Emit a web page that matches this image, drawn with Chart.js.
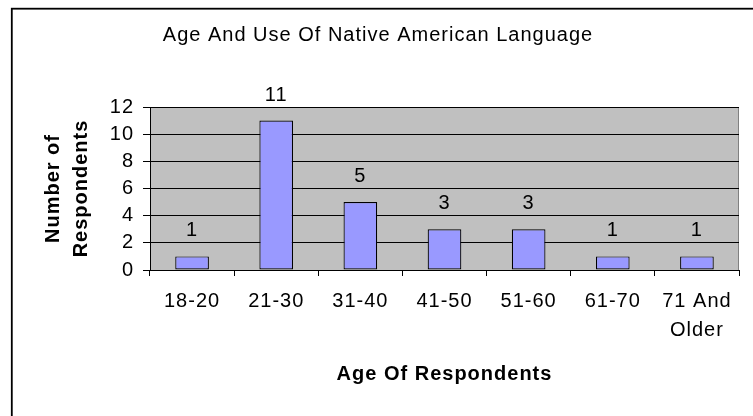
<!DOCTYPE html>
<html>
<head>
<meta charset="utf-8">
<script src="https://cdn.jsdelivr.net/npm/chart.js@4/dist/chart.umd.min.js"></script>
<style>
  html, body { margin: 0; padding: 0; background: #ffffff; }
  #wrap { width: 753px; height: 416px; }
</style>
</head>
<body>
<div id="wrap"><canvas id="c" width="753" height="416"></canvas></div>
<script>
const categories = ["18-20", "21-30", "31-40", "41-50", "51-60", "61-70", ["71 And", "Older"]];
const respondents = [1, 11, 5, 3, 3, 1, 1];
const yTicks = [0, 2, 4, 6, 8, 10, 12];

const chartTitle = "Age And Use Of Native American Language";
const xTitle = "Age Of Respondents";
const yTitle = ["Number of", "Respondents"];

const FONT = "'Liberation Sans', Arial, Helvetica, sans-serif";

const framePlugin = {
  id: 'frame',
  beforeDraw(chart) {
    const ctx = chart.ctx;
    const a = chart.chartArea;
    ctx.save();
    ctx.fillStyle = '#ffffff';
    ctx.fillRect(0, 0, chart.width, chart.height);
    ctx.strokeStyle = '#000000';
    ctx.lineWidth = 1.8;
    ctx.strokeRect(11.8, 8.7, 1000, 1000);
    ctx.fillStyle = '#C0C0C0';
    ctx.fillRect(a.left, a.top, a.right - a.left, a.bottom - a.top);
    ctx.strokeStyle = '#808080';
    ctx.lineWidth = 1;
    ctx.strokeRect(Math.round(a.left) + 0.5, Math.round(a.top) + 0.5, Math.round(a.right - a.left) - 1, Math.round(a.bottom - a.top));
    ctx.restore();
    ctx.letterSpacing = '1px';
  }
};

const valueLabelPlugin = {
  id: 'valueLabels',
  afterDatasetsDraw(chart) {
    const ctx = chart.ctx;
    const meta = chart.getDatasetMeta(0);
    const data = chart.data.datasets[0].data;
    ctx.save();
    ctx.font = '20px ' + FONT;
    ctx.fillStyle = '#000000';
    ctx.textAlign = 'center';
    ctx.textBaseline = 'alphabetic';
    meta.data.forEach((el, i) => {
      ctx.fillText(String(data[i]), el.x, el.y - 20);
    });
    ctx.restore();
  }
};

new Chart(document.getElementById('c'), {
  type: 'bar',
  data: {
    labels: categories,
    datasets: [{
      data: respondents,
      backgroundColor: '#9999FF',
      borderColor: '#000000',
      borderWidth: 1.2,
      borderSkipped: false,
      categoryPercentage: 1.0,
      barPercentage: 0.4
    }]
  },
  options: {
    responsive: false,
    animation: false,
    events: [],
    layout: { padding: { left: 17, right: 14, top: 0, bottom: 0 } },
    plugins: {
      legend: { display: false },
      tooltip: { enabled: false },
      title: {
        display: true,
        text: chartTitle,
        color: '#000000',
        font: { family: FONT, size: 20, weight: 'normal', lineHeight: 1.2 },
        padding: { top: 23, bottom: 60 }
      }
    },
    scales: {
      x: {
        grid: {
          display: true,
          drawOnChartArea: false,
          drawTicks: true,
          tickLength: 6,
          color: '#000000',
          lineWidth: 1,
          offset: true
        },
        border: { display: true, color: '#000000', width: 1 },
        ticks: {
          color: '#000000',
          font: { family: FONT, size: 20, lineHeight: 1.45 },
          padding: 10.5,
          maxRotation: 0,
          autoSkip: false
        },
        title: {
          display: true,
          text: xTitle,
          color: '#000000',
          font: { family: FONT, size: 20, weight: 'bold', lineHeight: 1.2 },
          padding: { top: 0, bottom: 30 }
        },
        afterFit(scale) { scale.height = 146; }
      },
      y: {
        min: 0,
        max: 12,
        afterBuildTicks(scale) { scale.ticks = yTicks.map(v => ({ value: v })); },
        grid: {
          display: true,
          drawOnChartArea: true,
          drawTicks: true,
          tickLength: 7,
          color: '#000000',
          lineWidth: 1
        },
        border: { display: true, color: '#000000', width: 1 },
        ticks: {
          color: '#000000',
          font: { family: FONT, size: 20, lineHeight: 1.2 },
          padding: 9
        },
        title: {
          display: true,
          text: yTitle,
          color: '#000000',
          font: { family: FONT, size: 20, weight: 'bold', lineHeight: 1.4 },
          padding: { top: 22.5, bottom: 0 }
        },
        afterFit(scale) { scale.width = 133; }
      }
    }
  },
  plugins: [framePlugin, valueLabelPlugin]
});
</script>
</body>
</html>
